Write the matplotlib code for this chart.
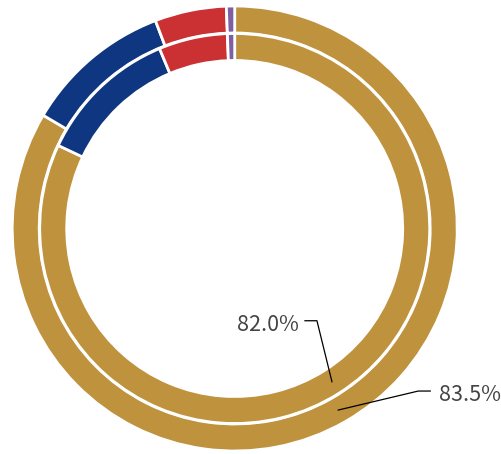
import numpy as np
import matplotlib
matplotlib.use("Agg")
import matplotlib.pyplot as plt

# ring data (clockwise from 12 o'clock)
categories = ["A", "B", "C", "D"]
outer_values = [83.5, 10.7, 5.2, 0.6]
inner_values = [82.0, 11.7, 5.7, 0.6]
colors = ["#BF923D", "#0F3680", "#CB3033", "#7E60A2"]
outer_label = "83.5%"
inner_label = "82.0%"

W, H = 501, 454
fig = plt.figure(figsize=(W / 100, H / 100), dpi=100)
ax = fig.add_axes([0, 0, 1, 1])

center = (234.7, H - 228.5)
wp = dict(edgecolor="white", linewidth=2)

outer, _ = ax.pie(outer_values, colors=colors, radius=222.5, center=center,
                  startangle=90, counterclock=False, frame=True,
                  wedgeprops=dict(width=27, **wp))
inner, _ = ax.pie(inner_values, colors=colors, radius=195, center=center,
                  startangle=90, counterclock=False, frame=True,
                  wedgeprops=dict(width=27, **wp))
ax.set_xlim(0, W)
ax.set_ylim(0, H)
ax.axis("off")


def anchor(w):
    t = np.deg2rad((w.theta1 + w.theta2) / 2)
    r = w.r - w.width / 2
    return w.center[0] + r * np.cos(t), w.center[1] + r * np.sin(t)


txt = dict(fontsize=15.5, color="#444444", family=["Noto Sans CJK SC", "DejaVu Sans"],
           va="center")

# inner label
x0, y0 = anchor(inner[0])
x1, y1 = x0 - 15, y0 + 61
ax.plot([x0, x1, x1 - 12], [y0, y1, y1], color="black", lw=0.9)
ax.text(x1 - 18, y1 - 4, inner_label, ha="right", **txt)

# outer label
x0, y0 = anchor(outer[0])
x1, y1 = x0 + 80, y0 + 19
ax.plot([x0, x1, x1 + 12], [y0, y1, y1], color="black", lw=0.9)
ax.text(x1 + 21, y1 - 4, outer_label, ha="left", **txt)

fig.savefig("out.png", dpi=100)
